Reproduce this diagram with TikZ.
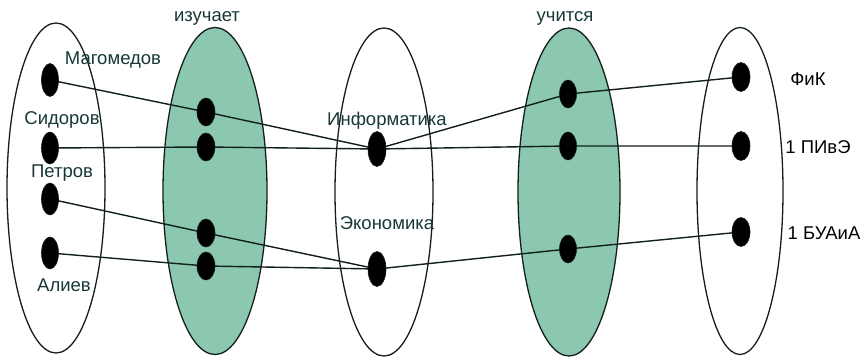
\documentclass[tikz,border=0pt]{standalone}
\usepackage{fontspec}
\setmainfont{Liberation Sans}
\usetikzlibrary{shapes.geometric}
\definecolor{setgreen}{RGB}{140,200,176}
\definecolor{txt}{RGB}{24,56,56}
\definecolor{ink}{RGB}{18,32,28}
\tikzset{
  setw/.style={ellipse, draw=ink, line width=1.3pt, fill=white, inner sep=0pt},
  setg/.style={ellipse, draw=ink, line width=1.3pt, fill=setgreen, inner sep=0pt},
  dotn/.style={ellipse, fill=black, draw=ink, line width=0.6pt, inner sep=0pt, minimum width=17pt, minimum height=#1},
  dotn/.default=28pt,
  lbl/.style={text=txt, font=\fontsize{18.5}{21}\selectfont, inner sep=0pt},
  lnk/.style={draw=ink, line width=1.4pt}
}
\begin{document}
\begin{tikzpicture}[x=1pt,y=-1pt]
\useasboundingbox[fill=white] (0,0) rectangle (865,358);
% sets
\node[setw, minimum width=98pt, minimum height=330pt] (A) at (56,188) {};
\node[setg, minimum width=104pt, minimum height=327pt] (B) at (215,191) {};
\node[setw, minimum width=98pt, minimum height=328pt] (C) at (384,192) {};
\node[setg, minimum width=102pt, minimum height=328pt] (D) at (569,192) {};
\node[setw, minimum width=86pt, minimum height=327pt] (E) at (740,191) {};
% titles
\node[lbl] (tB) at (207,18) {изучает};
\node[lbl] (tD) at (565,18) {учится};
% labels
\node[lbl] (l1) at (113,60) {Магомедов};
\node[lbl] (l2) at (62,120) {Сидоров};
\node[lbl] (l3) at (62,173) {Петров};
\node[lbl] (l4) at (64,285) {Алиев};
\node[lbl] (l5) at (387,121) {Информатика};
\node[lbl] (l6) at (387,223) {Экономика};
\node[lbl, text=black] (l7) at (808,79) {ФиК};
\node[lbl, text=black] (l8) at (818,147) {1 ПИвЭ};
\node[lbl, text=black] (l9) at (824,233) {1 БУАиА};
% link end points (dot centres)
\coordinate (pa1) at (50,80);
\coordinate (pa2) at (50,148);
\coordinate (pa3) at (50,199);
\coordinate (pa4) at (50,253);
\coordinate (pb1) at (206,112);
\coordinate (pb2) at (206,147);
\coordinate (pb3) at (206,233);
\coordinate (pb4) at (206,266);
\coordinate (pc1) at (377,149);
\coordinate (pc2) at (377,269);
\coordinate (pd1) at (568,94);
\coordinate (pd2) at (568,146);
\coordinate (pd3) at (568,249);
\coordinate (pe1) at (741,77);
\coordinate (pe2) at (741,146);
\coordinate (pe3) at (741,232);
\draw[lnk] (pa1) -- (pb1) -- (pc1);
\draw[lnk] (pa2) -- (pb2) -- (pc1);
\draw[lnk] (pa3) -- (pb3) -- (pc2);
\draw[lnk] (pa4) -- (pb4) -- (pc2);
\draw[lnk] (pc1) -- (pd1) -- (pe1);
\draw[lnk] (pc1) -- (pd2) -- (pe2);
\draw[lnk] (pc2) -- (pd3) -- (pe3);
% dots
\node[dotn=33pt] (a1) at (pa1) {};
\node[dotn=32pt] (a2) at (pa2) {};
\node[dotn=32pt] (a3) at (pa3) {};
\node[dotn=32pt] (a4) at (pa4) {};
\node[dotn=28pt, minimum width=18pt] (b1) at (pb1) {};
\node[dotn=28pt, minimum width=18pt] (b2) at (pb2) {};
\node[dotn=28pt, minimum width=18pt] (b3) at (pb3) {};
\node[dotn=28pt, minimum width=18pt] (b4) at (pb4) {};
\node[dotn=35pt, minimum width=18pt] (c1) at (pc1) {};
\node[dotn=35pt, minimum width=18pt] (c2) at (pc2) {};
\node[dotn=28pt] (d1) at (pd1) {};
\node[dotn=28pt] (d2) at (pd2) {};
\node[dotn=28pt] (d3) at (pd3) {};
\node[dotn=29pt, minimum width=18pt] (e1) at (pe1) {};
\node[dotn=29pt, minimum width=18pt] (e2) at (pe2) {};
\node[dotn=29pt, minimum width=18pt] (e3) at (pe3) {};
\end{tikzpicture}
\end{document}
